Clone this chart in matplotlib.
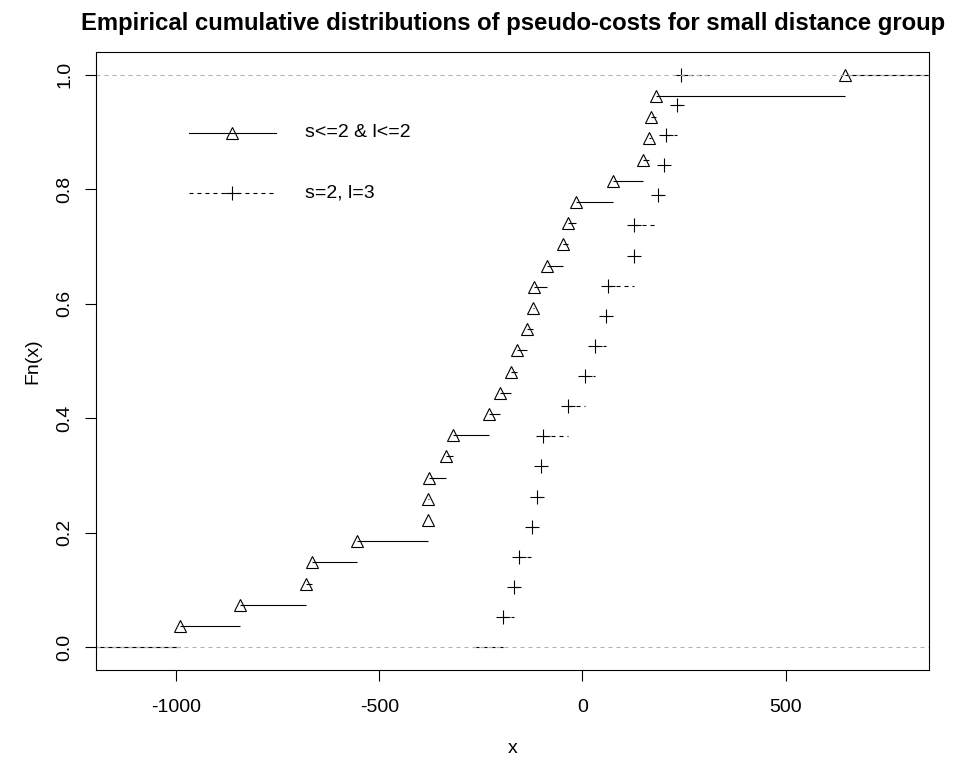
import numpy as np
import matplotlib
matplotlib.use("Agg")
import matplotlib.pyplot as plt

plt.rcParams['font.family'] = ['Liberation Sans', 'DejaVu Sans']

# pseudo-costs, group "s<=2 & l<=2" (27 values)
cost_small = [-991, -843, -680, -666, -555, -381, -379, -377, -335, -318,
              -229, -202, -177, -160, -136, -121, -118, -86, -47, -35,
              -15, 74, 150, 165, 168, 180, 646]
# pseudo-costs, group "s=2, l=3" (19 values)
cost_s2l3 = [-195, -168, -155, -123, -111, -101, -96, -35, 7, 32,
             59, 62, 126, 128, 185, 200, 205, 232, 242]

labels = ["s<=2 & l<=2", "s=2, l=3"]
title = "Empirical cumulative distributions of pseudo-costs for small distance group"


# R plot.stepfun style: horizontal pieces only, extended past the knots
def ecdf_steps(vals):
    x = np.sort(np.array(vals, dtype=float))
    n = len(x)
    F = np.arange(1, n + 1) / n
    dr = max(0.08 * (x[-1] - x[0]), np.median(np.diff(x)))
    xs = np.concatenate([[x[0] - 2 * dr], x, [x[-1] + 2 * dr]])
    ys = np.concatenate([[0.0], F])
    return x, F, xs, ys, dr


fig = plt.figure(figsize=(9.6, 7.67), dpi=100)
ax = fig.add_axes([0.0997, 0.1265, 0.868, 0.8057])

lw = 0.8
dash = (0, (3.6, 3.6))

# first ecdf defines the plot range
x1, F1, xs1, ys1, dr1 = ecdf_steps(cost_small)
lo, hi = x1[0] - dr1, x1[-1] + dr1
pad = 0.04 * (hi - lo)
ax.set_xlim(lo - pad, hi + pad)
ax.set_ylim(-0.04, 1.04)

for i in range(len(ys1)):
    ax.plot([xs1[i], xs1[i + 1]], [ys1[i], ys1[i]], color='black', lw=lw,
            solid_capstyle='butt')
ax.plot(x1, F1, ls='none', marker='^', ms=8.5, mfc='none', mec='black', mew=0.8)

x2, F2, xs2, ys2, dr2 = ecdf_steps(cost_s2l3)
for i in range(len(ys2)):
    ax.plot([xs2[i], xs2[i + 1]], [ys2[i], ys2[i]], color='black', lw=lw,
            linestyle=dash, dash_capstyle='butt')
ax.plot(x2, F2, ls='none', marker='+', ms=10, mec='black', mew=0.8)

# gray lines at 0 and 1
for h in [0, 1]:
    ax.axhline(h, color='#B3B3B3', lw=lw, linestyle=dash)

# legend drawn by hand, no box
ax.plot([0.112, 0.216], [0.869, 0.869], transform=ax.transAxes, color='black', lw=lw)
ax.plot([0.164], [0.869], transform=ax.transAxes, marker='^', ms=8.5, mfc='none',
        mec='black', mew=0.8)
ax.text(0.251, 0.869, labels[0], transform=ax.transAxes, va='center', ha='left',
        fontsize=14)
ax.plot([0.112, 0.216], [0.772, 0.772], transform=ax.transAxes, color='black', lw=lw,
        linestyle=dash)
ax.plot([0.164], [0.772], transform=ax.transAxes, marker='+', ms=10, mec='black', mew=0.8)
ax.text(0.251, 0.772, labels[1], transform=ax.transAxes, va='center', ha='left',
        fontsize=14)

ax.set_xticks([-1000, -500, 0, 500])
ax.set_xticklabels(['-1000', '-500', '0', '500'])
ax.set_yticks([0.0, 0.2, 0.4, 0.6, 0.8, 1.0])
ax.set_yticklabels(['0.0', '0.2', '0.4', '0.6', '0.8', '1.0'], rotation=90, va='center')
ax.tick_params(axis='both', direction='out', length=8, width=0.8, labelsize=14)
ax.tick_params(axis='x', pad=13)
ax.tick_params(axis='y', pad=8)
for s in ax.spines.values():
    s.set_linewidth(0.8)

ax.set_xlabel('x', fontsize=14, labelpad=17)
ax.set_ylabel('Fn(x)', fontsize=14, labelpad=11)
fig.text(0.534, 0.970, title, ha='center', va='center', fontsize=17.2, fontweight='bold')

fig.savefig('out.png', dpi=100)
